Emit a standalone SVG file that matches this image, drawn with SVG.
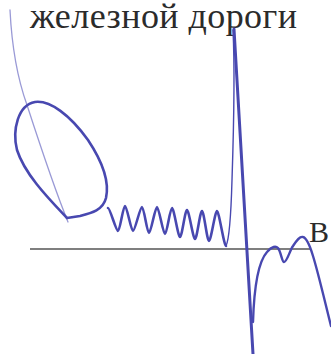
<svg xmlns="http://www.w3.org/2000/svg" width="331" height="354" viewBox="0 0 331 354">
<style>
.ink{fill:none;stroke:#4848b0;stroke-linecap:round;stroke-linejoin:round}
.thin{fill:none;stroke:#9a9ad6;stroke-linecap:round;stroke-width:1.3}
.lbl{font-family:"Liberation Serif","DejaVu Serif",serif;fill:#2b2b2b}
</style>
<rect width="331" height="354" fill="#ffffff"/>
<g id="labels">
<text class="lbl" x="30" y="28" font-size="36" textLength="267" lengthAdjust="spacing">железной дороги</text>
<text class="lbl" x="309" y="242" font-size="30">B</text>
</g>
<g id="axis">
<line x1="30" y1="249" x2="310" y2="249" stroke="#555" stroke-width="1.5"/>
</g>
<g id="curves">
<path class="thin" d="M10,10 C12,50 18,80 27,105 C40,145 55,190 68,222"/>
<path class="ink" stroke-width="2.6" d="M67,218 C50,200 25,175 17,150 C12,130 18,105 35,102 C50,100 70,115 88,140 C100,158 110,180 106,198 C103,210 92,213 80,216 L67,218"/>
<path class="ink" stroke-width="2.6" d="M108,208 C110,208 116,231 118,231 C120,231 123,206 125,206 C127,206 131,231 133,231 C135,231 140,207 142,207 C144,207 147,233 149,233 C151,233 155,207 157,207 C159,207 163,234 165,234 C167,234 170,208 172,208 C174,208 178,237 180,237 C182,237 185,210 187,210 C189,210 193,239 195,239 C197,239 200,211 202,211 C204,211 207,241 209,241 C211,241 215,211 217,211 C219,211 224,246 226,246"/>
<path class="ink" stroke-width="1.4" stroke="#6a6ac4" d="M226,246 C229,240 231,215 232,180 C234,120 235,70 233,30"/>
<path class="ink" stroke-width="3" d="M234,29 L253,354"/>
<path class="ink" stroke-width="2.4" d="M253,322 C254,290 258,262 267,252 C272,246 276,246 278,248 C281,252 282,262 284,262 C287,262 290,250 293,246 C297,240 300,236 303,237 C307,238 310,246 313,256 C318,272 324,298 331,326"/>
</g>
</svg>
